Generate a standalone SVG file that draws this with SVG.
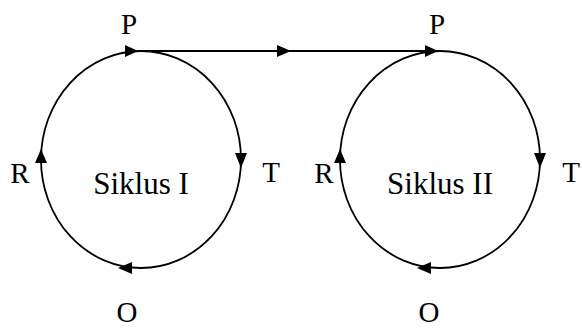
<svg xmlns="http://www.w3.org/2000/svg" width="582" height="329" viewBox="0 0 582 329">
<style>
.c{fill:none;stroke:#000;stroke-width:1.8}
.a{fill:#000}
.t{font-family:"Liberation Serif","Times New Roman",serif;font-size:29px;fill:#000}
.s{font-family:"Liberation Serif","Times New Roman",serif;font-size:31px;fill:#000}
</style>
<rect width="582" height="329" fill="#fff"/>
<g id="siklus1">
<ellipse class="c" cx="141" cy="159.5" rx="100" ry="108.5"/>
<polygon class="a" points="138,51 125,45 125,57"/>
<polygon class="a" points="241,168 235,153 247,153"/>
<polygon class="a" points="118,268 132,262 132,274"/>
<polygon class="a" points="41,149 35,163 47,163"/>
<text class="t" x="129" y="34" text-anchor="middle">P</text>
<text class="t" x="271" y="182" text-anchor="middle">T</text>
<text class="t" x="20" y="183" text-anchor="middle">R</text>
<text class="t" x="127" y="322" text-anchor="middle">O</text>
<text class="s" x="141" y="194" text-anchor="middle">Siklus I</text>
</g>
<g id="siklus2">
<ellipse class="c" cx="440" cy="159.5" rx="100" ry="108.5"/>
<polygon class="a" points="438,51 425,45 425,57"/>
<polygon class="a" points="540,168 534,153 546,153"/>
<polygon class="a" points="417,268 431,262 431,274"/>
<polygon class="a" points="340,149 334,163 346,163"/>
<text class="t" x="437" y="34" text-anchor="middle">P</text>
<text class="t" x="571" y="182" text-anchor="middle">T</text>
<text class="t" x="324" y="183" text-anchor="middle">R</text>
<text class="t" x="429" y="322" text-anchor="middle">O</text>
<text class="s" x="440" y="194" text-anchor="middle">Siklus II</text>
</g>
<g id="connectors">
<line class="c" x1="138" y1="51" x2="438" y2="51"/>
<polygon class="a" points="291,51 277,45 277,57"/>
</g>
</svg>
